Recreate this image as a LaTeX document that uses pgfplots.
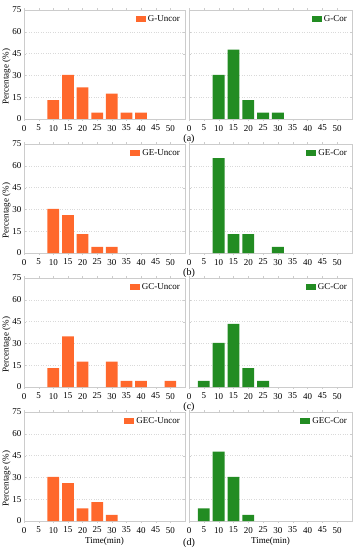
\documentclass[border=0pt]{standalone}
\usepackage{fontspec}
\setmainfont{Liberation Serif}
\usepackage{pgfplots}
\pgfplotsset{compat=1.18}
\definecolor{myor}{RGB}{255,104,44}
\definecolor{mygr}{RGB}{34,140,34}
\pgfplotsset{
  panel/.style={
    scale only axis, height=109pt,
    xmin=0, xmax=55, ymin=0, ymax=75,
    xtick={0,5,...,50}, ytick={0,15,...,75},
    ymajorgrids, grid style={dotted, gray!30},
    axis line style={gray!40}, tick style={gray!40},
    tick align=inside, major tick length=2pt,
    ybar, bar width=4,
    /pgf/number format/assume math mode=true,
    tick label style={font=\fontsize{9}{10}\selectfont},
    label style={font=\fontsize{9}{10}\selectfont},
    xticklabel style={yshift=-0.5pt},
    yticklabel style={xshift=1pt},
    legend style={draw=none, fill=none, inner sep=0pt, at={(1,1)}, xshift=-3pt, yshift=-3.5pt, anchor=north east, font=\fontsize{9}{10}\selectfont, legend cell align=left},
    legend image code/.code={\fill[##1] (0pt,-3pt) rectangle (10pt,3.5pt);},
  },
  lpanel/.style={panel, width=161pt, ylabel={Percentage (\%)}, ylabel style={at={(ticklabel cs:0.39)}}, ylabel shift=-5pt},
  rpanel/.style={panel, width=163pt, yticklabels={}},
  ob/.style={fill=myor, draw=none},
  gb/.style={fill=mygr, draw=none},
}
\begin{document}
\begin{tikzpicture}
\useasboundingbox (0pt,0pt) rectangle (361pt,550pt);
% (a)
\begin{axis}[lpanel, at={(24pt,431pt)}, anchor=south west]
\addplot[ob] coordinates {(10,13.0) (15,30.4) (20,21.7) (25,4.3) (30,17.4) (35,4.3) (40,4.3)};
\addlegendentry{G-Uncor}
\end{axis}
\begin{axis}[rpanel, at={(189pt,431pt)}, anchor=south west]
\addplot[gb] coordinates {(10,30.4) (15,47.8) (20,13.0) (25,4.3) (30,4.3)};
\addlegendentry{G-Cor}
\end{axis}
\node at (189pt,411pt) {\fontsize{10}{11}\selectfont (a)};
% (b)
\begin{axis}[lpanel, at={(24pt,297pt)}, anchor=south west]
\addplot[ob] coordinates {(10,30.4) (15,26.1) (20,13.0) (25,4.3) (30,4.3)};
\addlegendentry{GE-Uncor}
\end{axis}
\begin{axis}[rpanel, at={(189pt,297pt)}, anchor=south west]
\addplot[gb] coordinates {(10,65.2) (15,13.0) (20,13.0) (30,4.3)};
\addlegendentry{GE-Cor}
\end{axis}
\node at (189pt,277pt) {\fontsize{10}{11}\selectfont (b)};
% (c)
\begin{axis}[lpanel, at={(24pt,163pt)}, anchor=south west]
\addplot[ob] coordinates {(10,13.0) (15,34.8) (20,17.4) (30,17.4) (35,4.3) (40,4.3) (50,4.3)};
\addlegendentry{GC-Uncor}
\end{axis}
\begin{axis}[rpanel, at={(189pt,163pt)}, anchor=south west]
\addplot[gb] coordinates {(5,4.3) (10,30.4) (15,43.5) (20,13.0) (25,4.3)};
\addlegendentry{GC-Cor}
\end{axis}
\node at (189pt,143pt) {\fontsize{10}{11}\selectfont (c)};
% (d)
\begin{axis}[lpanel, at={(24pt,29pt)}, anchor=south west, xlabel={Time(min)}, xlabel style={yshift=2.5pt}]
\addplot[ob] coordinates {(10,30.4) (15,26.1) (20,8.7) (25,13.0) (30,4.3)};
\addlegendentry{GEC-Uncor}
\end{axis}
\begin{axis}[rpanel, at={(189pt,29pt)}, anchor=south west, xlabel={Time(min)}, xlabel style={yshift=2.5pt}]
\addplot[gb] coordinates {(5,8.7) (10,47.8) (15,30.4) (20,4.3)};
\addlegendentry{GEC-Cor}
\end{axis}
\node at (189pt,7pt) {\fontsize{10}{11}\selectfont (d)};
\end{tikzpicture}
\end{document}
